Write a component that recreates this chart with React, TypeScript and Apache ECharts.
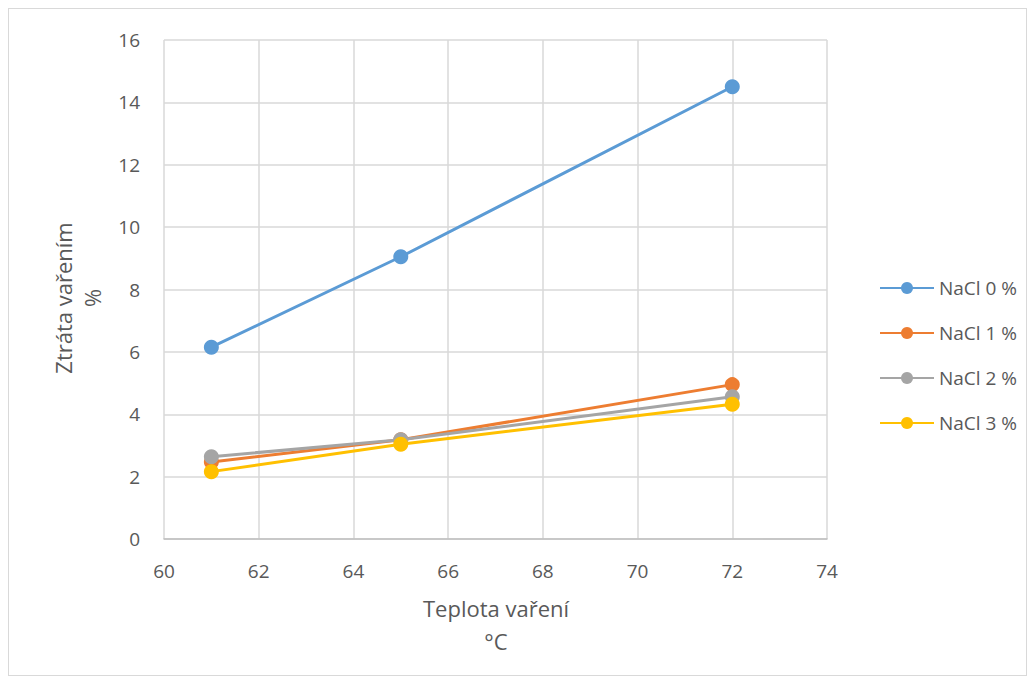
import React, { useEffect, useRef } from "react";
import * as echarts from "echarts";

// Cooking temperature (°C) and cooking loss (%) per salt level
const temperatures = [61, 65, 72];
const seriesNames = ["NaCl 0 %", "NaCl 1 %", "NaCl 2 %", "NaCl 3 %"];
const nacl0 = [6.15, 9.05, 14.5];
const nacl1 = [2.47, 3.18, 4.95];
const nacl2 = [2.64, 3.18, 4.56];
const nacl3 = [2.16, 3.04, 4.32];
const colors = ["#5B9BD5", "#ED7D31", "#A5A5A5", "#FFC000"];

const FONT = "'Open Sans', 'Noto Sans', sans-serif";

export default function App() {
  const ref = useRef<HTMLDivElement>(null);

  useEffect(() => {
    if (!ref.current) return;
    const chart = echarts.init(ref.current, undefined, { renderer: "svg" });
    const values = [nacl0, nacl1, nacl2, nacl3];
    chart.setOption({
      animation: false,
      backgroundColor: "#ffffff",
      grid: { left: 155, top: 31, width: 663, height: 499, containLabel: false },
      xAxis: {
        type: "value",
        min: 60,
        max: 74,
        interval: 2,
        axisLine: { show: true, lineStyle: { color: "#bfbfbf", width: 1.5 } },
        axisTick: { show: false },
        axisLabel: { color: "#595959", fontSize: 19, fontFamily: FONT, margin: 22 },
        splitLine: { show: true, lineStyle: { color: "#d9d9d9", width: 1.5 } },
      },
      yAxis: {
        type: "value",
        min: 0,
        max: 16,
        interval: 2,
        axisLine: { show: false },
        axisTick: { show: false },
        axisLabel: { color: "#595959", fontSize: 19, fontFamily: FONT, margin: 24 },
        splitLine: { show: true, lineStyle: { color: "#d9d9d9", width: 1.5 } },
      },
      legend: {
        orient: "vertical",
        left: 865,
        top: 264,
        itemWidth: 54,
        itemHeight: 15,
        itemGap: 25,
        data: seriesNames,
        textStyle: { color: "#595959", fontSize: 19, lineHeight: 20, fontFamily: FONT },
      },
      graphic: [
        {
          type: "text",
          x: 68,
          y: 289,
          rotation: Math.PI / 2,
          style: {
            text: "Ztráta vařením\n%",
            fill: "#595959",
            fontSize: 22,
            fontFamily: FONT,
            align: "center",
            verticalAlign: "middle",
            lineHeight: 29,
          },
        },
        {
          type: "text",
          x: 487,
          y: 615,
          style: {
            text: "Teplota vaření\n°C",
            fill: "#595959",
            fontSize: 22,
            fontFamily: FONT,
            align: "center",
            verticalAlign: "middle",
            lineHeight: 33,
          },
        },
      ],
      series: seriesNames.map((name, i) => ({
        name,
        type: "line",
        data: temperatures.map((t, j) => [t, values[i][j]]),
        symbol: "circle",
        symbolSize: 15,
        lineStyle: { color: colors[i], width: 3 },
        itemStyle: { color: colors[i] },
        z: 2 + i,
      })),
    });
    return () => chart.dispose();
  }, []);

  return (
    <div
      ref={ref}
      style={{
        width: 1017,
        height: 666,
        border: "1px solid #d9d9d9",
        boxSizing: "content-box",
      }}
    />
  );
}
